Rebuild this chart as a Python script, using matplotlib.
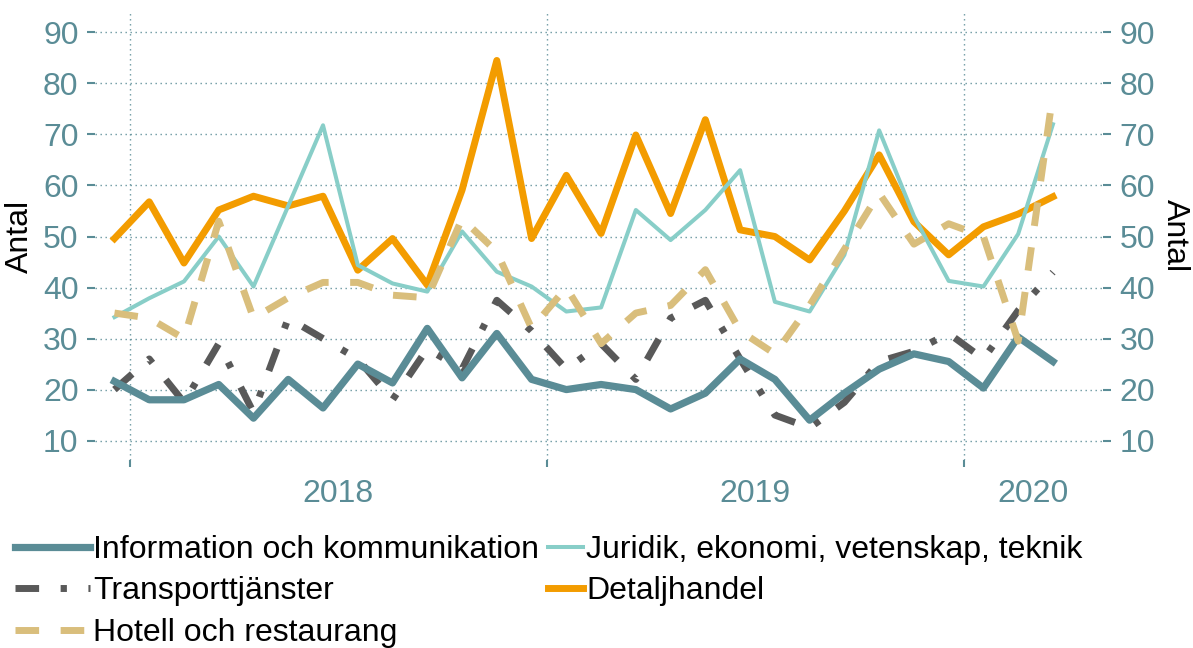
import matplotlib.pyplot as plt
import numpy as np

# monthly counts, Dec 2017 - Mar 2020
months = ['2017-12', '2018-01', '2018-02', '2018-03', '2018-04', '2018-05', '2018-06',
          '2018-07', '2018-08', '2018-09', '2018-10', '2018-11', '2018-12', '2019-01',
          '2019-02', '2019-03', '2019-04', '2019-05', '2019-06', '2019-07', '2019-08',
          '2019-09', '2019-10', '2019-11', '2019-12', '2020-01', '2020-02', '2020-03']

info = [21.6, 18, 18, 21, 14.4, 22, 16.4, 25, 21.3, 32, 22.3, 31, 22, 20,
        21, 20, 16.2, 19.3, 26, 22, 14, 19.3, 24, 27, 25.5, 20.3, 30.3, 25.5]
juridik = [34.2, 37.9, 41.2, 50, 40.2, 56, 71.8, 44.4, 40.8, 39.2, 51, 43.1, 40.2, 35.3,
           36.1, 55.2, 49.3, 55.2, 63, 37.2, 35.3, 46.4, 70.8, 54, 41.3, 40.2, 50.5, 72]
transport = [20, 26, 17.5, 29, 15.5, 34, 30, 26, 18, 28, 24, 37.5, 31.5, 24,
             29, 22, 34, 37.5, 26, 15, 12.5, 17.5, 25.5, 27.5, 31, 26, 35.5, 43]
detalj = [49.6, 56.8, 44.8, 55.2, 57.9, 56, 57.9, 43.4, 49.6, 40.5, 59.1, 84.5, 49.6, 62,
          50.6, 69.9, 54.5, 72.9, 51.3, 50, 45.4, 55, 66, 52.9, 46.4, 51.9, 54.4, 57.8]
hotell = [35, 34, 30, 53, 34, 38, 41, 41, 38.5, 38, 53.5, 47, 32, 40,
          29, 35, 36.5, 43.5, 31.5, 27, 36.5, 47.5, 58.5, 48.5, 52.5, 50, 29.5, 78]

years = ['2018', '2019', '2020']

teal = '#5A8C96'
plt.rcParams['font.family'] = ['Liberation Sans', 'DejaVu Sans']

fig = plt.figure(figsize=(11.93, 6.48), dpi=100)
W, H = 1193, 648
ax = fig.add_axes([95 / W, 1 - 460 / H, (1103 - 95) / W, (460 - 12) / H])

# months since Jan 2018, points a bit past mid-month
x = np.arange(len(months)) - 1 + 0.56

l_tr, = ax.plot(x, transport, color='#595959', lw=5, dashes=(3.4, 3.1, 0.9, 3.1), zorder=2)
l_in, = ax.plot(x, info, color=teal, lw=5.2, zorder=3)
l_de, = ax.plot(x, detalj, color='#F39C00', lw=5, zorder=4)
l_ju, = ax.plot(x, juridik, color='#88CEC8', lw=2.9, zorder=5)
l_ho, = ax.plot(x, hotell, color='#D9BE7C', lw=5, dashes=(3.4, 3.1), zorder=6)

ax.set_xlim(-1, 28)
ax.set_ylim(6.2, 94)

ax.set_xticks([0, 12, 24])
ax.set_xticklabels([])
ax.set_xticks([6, 18, 26], minor=True)
ax.set_xticklabels(years, minor=True)
ax.tick_params(axis='x', which='major', length=5, width=1.5, color=teal)
ax.tick_params(axis='x', which='minor', length=0, labelsize=23, labelcolor=teal, pad=14)

ax.set_yticks(range(10, 91, 10))
ax.tick_params(axis='y', length=5.8, width=1.5, color=teal, labelcolor=teal,
               labelsize=23, pad=6, right=True, labelright=True)

ax.grid(axis='both', which='major', color=teal, lw=1.0, alpha=0.9,
        linestyle=(0, (1, 2.6)))
for s in ax.spines.values():
    s.set_visible(False)

fig.text(20 / W, 1 - 236 / H, 'Antal', rotation=90, ha='center', va='center', fontsize=23)
fig.text(1175 / W, 1 - 236 / H, 'Antal', rotation=270, ha='center', va='center', fontsize=23)

kw = dict(loc='upper left', frameon=False, fontsize=23, handletextpad=0.1,
          labelspacing=0.36, borderpad=0, borderaxespad=0)
fig.legend([l_in, l_tr, l_ho],
           ['Information och kommunikation', 'Transporttjänster', 'Hotell och restaurang'],
           bbox_to_anchor=(15 / W, 1 - 535 / H), handlelength=2.35, **kw)
fig.legend([l_ju, l_de],
           ['Juridik, ekonomi, vetenskap, teknik', 'Detaljhandel'],
           bbox_to_anchor=(548 / W, 1 - 535 / H), handlelength=1.1, **kw)

fig.savefig('out.png', dpi=100)
